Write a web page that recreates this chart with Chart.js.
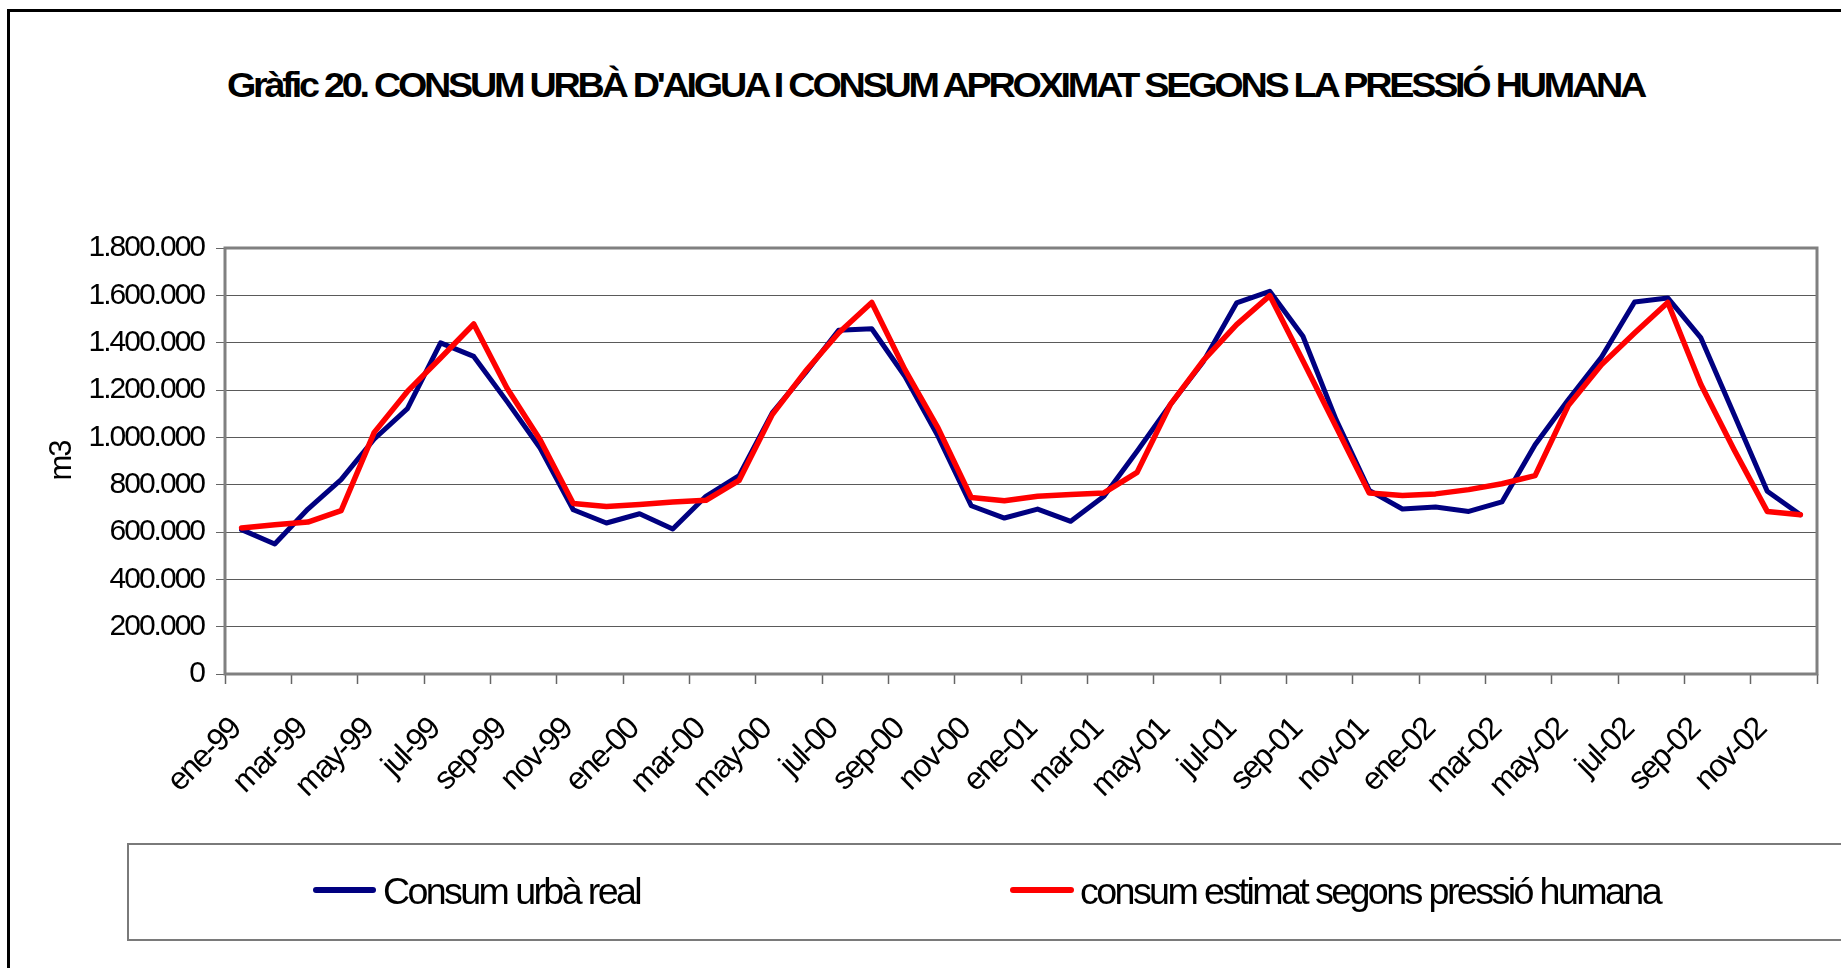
<!DOCTYPE html>
<html>
<head>
<meta charset="utf-8">
<script src="https://cdn.jsdelivr.net/npm/chart.js"></script>
<style>
  body { margin: 0; background: #fff; overflow: hidden; font-family: "Liberation Sans", Arial, sans-serif; }
  #frame { position: absolute; left: 7px; top: 9px; width: 1900px; height: 1000px; border-left: 3px solid #000; border-top: 3px solid #000; }
  #myChart { position: absolute; left: 0; top: 0; }
  .fit { position: absolute; white-space: nowrap; display: inline-block; transform-origin: 0 0; line-height: 1; }
  #title { left: 227px; top: 67px; font-size: 35px; font-weight: bold; letter-spacing: -3px; }
  #legendBox { position: absolute; left: 127px; top: 843px; width: 1760px; height: 98px; border: 2px solid #7a7a7a; box-sizing: border-box; }
  .swatch { position: absolute; height: 6px; border-radius: 3px; }
  .legText { font-size: 36px; top: 874px; letter-spacing: -2.5px; }
</style>
</head>
<body>
<div id="frame"></div>
<div id="title" class="fit">Gràfic 20. CONSUM URBÀ D'AIGUA I CONSUM APROXIMAT SEGONS LA PRESSIÓ HUMANA</div>
<canvas id="myChart" width="1841" height="968"></canvas>
<div id="legendBox"></div>
<div class="swatch" style="left:313px; top:887px; width:63px; background:#000080;"></div>
<div id="leg1" class="fit legText" style="left:383px;">Consum urbà real</div>
<div class="swatch" style="left:1010px; top:887px; width:64px; background:#ff0000;"></div>
<div id="leg2" class="fit legText" style="left:1080px;">consum estimat segons pressió humana</div>

<script>
// monthly labels, ene-99 .. dic-02
var months = ['ene', 'feb', 'mar', 'abr', 'may', 'jun', 'jul', 'ago', 'sep', 'oct', 'nov', 'dic'];
var years = ['99', '00', '01', '02'];

// m3 per month
var consumReal = [
  610000, 549000, 697000, 821000, 993000, 1121000, 1399000, 1342000, 1152000, 955000, 694000, 638000,
  677000, 613000, 751000, 838000, 1103000, 1272000, 1452000, 1459000, 1258000, 1004000, 711000, 659000,
  697000, 645000, 751000, 941000, 1138000, 1321000, 1568000, 1617000, 1427000, 1075000, 776000, 697000,
  706000, 687000, 727000, 969000, 1159000, 1338000, 1572000, 1589000, 1420000, 1096000, 772000, 673000
];
var consumEstimat = [
  617000, 631000, 642000, 690000, 1021000, 1194000, 1335000, 1479000, 1208000, 990000, 720000, 708000,
  716000, 727000, 734000, 818000, 1096000, 1279000, 1441000, 1570000, 1286000, 1039000, 746000, 732000,
  751000, 758000, 765000, 852000, 1138000, 1325000, 1476000, 1599000, 1324000, 1045000, 765000, 754000,
  761000, 779000, 804000, 838000, 1134000, 1307000, 1441000, 1570000, 1223000, 948000, 687000, 673000
];

var yTicks = { min: 0, max: 1800000, step: 200000 };

var labels = [];
years.forEach(function (y) {
  months.forEach(function (m) { labels.push(m + '-' + y); });
});

function fmt(v) {
  return String(v).replace(/\B(?=(\d{3})+(?!\d))/g, '.');
}

// gray frame round the plot area, tighter text on the canvas
var plotBorder = {
  id: 'plotBorder',
  beforeDraw: function (chart) {
    chart.ctx.letterSpacing = '-2px';
  },
  beforeDatasetsDraw: function (chart) {
    var a = chart.chartArea, c = chart.ctx;
    c.save();
    c.strokeStyle = '#808080';
    c.lineWidth = 3;
    c.strokeRect(a.left, a.top, a.right - a.left, a.bottom - a.top);
    c.restore();
  }
};

var ctx = document.getElementById('myChart').getContext('2d');
var myChart = new Chart(ctx, {
  type: 'line',
  data: {
    labels: labels,
    datasets: [{
      label: 'Consum urbà real',
      data: consumReal,
      borderColor: '#000080',
      backgroundColor: '#000080',
      borderWidth: 5,
      pointRadius: 0,
      tension: 0,
      borderJoinStyle: 'round',
      borderCapStyle: 'round',
      order: 1
    }, {
      label: 'consum estimat segons pressió humana',
      data: consumEstimat,
      borderColor: '#ff0000',
      backgroundColor: '#ff0000',
      borderWidth: 5.5,
      pointRadius: 0,
      tension: 0,
      borderJoinStyle: 'round',
      borderCapStyle: 'round',
      order: 0
    }]
  },
  options: {
    responsive: false,
    devicePixelRatio: 1,
    animation: false,
    layout: { padding: { top: 248, left: 0, right: 24, bottom: 164 } },
    plugins: {
      legend: { display: false },
      title: { display: false },
      tooltip: { enabled: false }
    },
    scales: {
      x: {
        offset: true,
        afterFit: function (scale) {
          scale.height = 130;
          scale.paddingLeft = 0;
          scale.paddingRight = 0;
        },
        border: { display: false },
        grid: {
          offset: true,
          drawOnChartArea: false,
          drawTicks: true,
          tickLength: 10,
          tickWidth: 1.5,
          tickColor: function (c) {
            return (c.index === undefined || c.index % 2 === 0) ? '#666' : 'rgba(0,0,0,0)';
          }
        },
        ticks: {
          autoSkip: false,
          minRotation: 45,
          maxRotation: 45,
          padding: 27,
          labelOffset: -6,
          color: '#000',
          font: { family: 'Liberation Sans', size: 32 },
          callback: function (val, i) { return i % 2 === 0 ? labels[i] : ''; }
        }
      },
      y: {
        min: yTicks.min,
        max: yTicks.max,
        afterFit: function (scale) { scale.width = 225; },
        border: { display: false },
        grid: {
          color: '#5a5a5a',
          lineWidth: 1,
          tickLength: 9,
          tickColor: '#666'
        },
        ticks: {
          stepSize: yTicks.step,
          padding: 12,
          color: '#000',
          font: { family: 'Liberation Sans', size: 30 },
          callback: function (v) { return fmt(v); }
        },
        title: {
          display: true,
          text: 'm3',
          color: '#000',
          font: { family: 'Liberation Sans', size: 31 },
          padding: { top: 44, bottom: 0 }
        }
      }
    }
  },
  plugins: [plotBorder]
});

// squeeze the narrow headings to their widths
function fitWidth(id, w) {
  var el = document.getElementById(id);
  var r = el.getBoundingClientRect().width;
  el.style.transform = 'scaleX(' + (w / r) + ')';
}
fitWidth('title', 1417);
fitWidth('leg1', 257);
fitWidth('leg2', 580);
</script>
</body>
</html>
